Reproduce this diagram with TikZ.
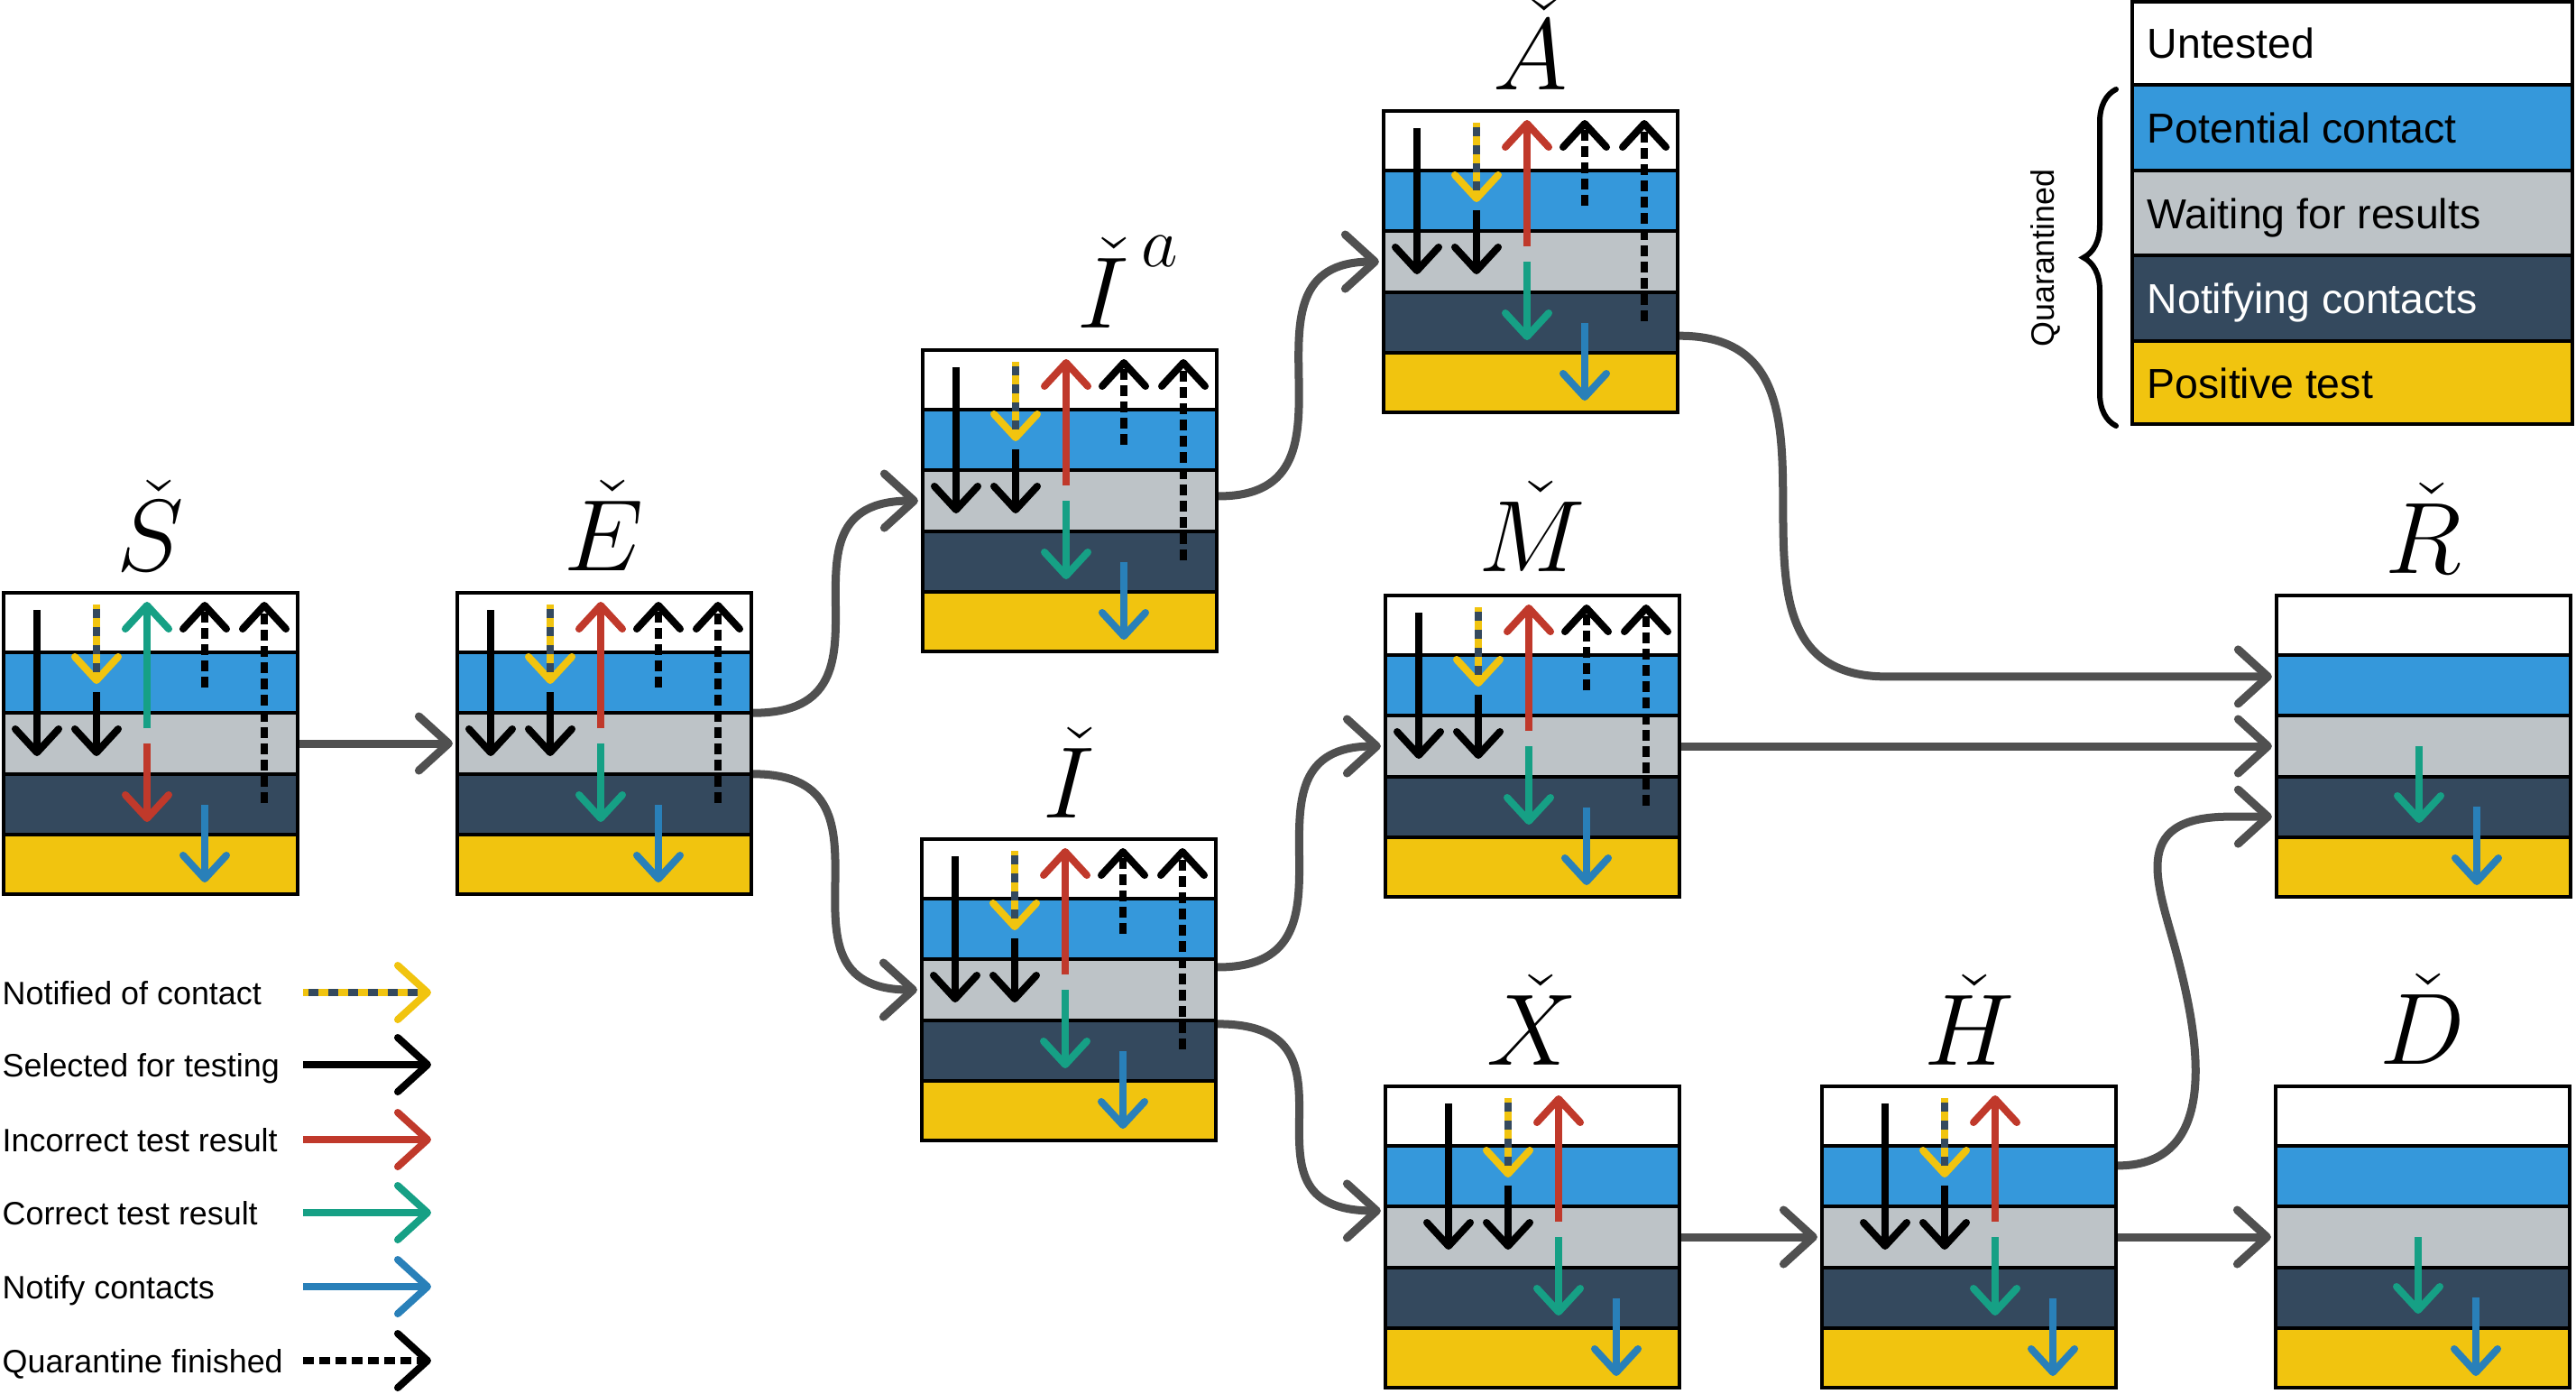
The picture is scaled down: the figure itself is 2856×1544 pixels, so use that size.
\RequirePackage{fix-cm}
\documentclass[tikz,border=0pt]{standalone}
\usepackage{fontspec}
\setmainfont{Liberation Sans}
\usetikzlibrary{arrows.meta,calc,decorations.pathreplacing}
\definecolor{cBlue}{HTML}{3598DB}
\definecolor{cGray}{HTML}{BDC3C7}
\definecolor{cDark}{HTML}{34495E}
\definecolor{cYel}{HTML}{F1C40F}
\definecolor{cRed}{HTML}{C0392B}
\definecolor{cGreen}{HTML}{16A085}
\definecolor{cArrB}{HTML}{2980B9}
\definecolor{cConn}{HTML}{505050}
\tikzset{
  bandline/.style={line width=0.04cm},
  boxnode/.style={draw, line width=0.04cm, minimum width=3.26cm, minimum height=3.34cm, inner sep=0pt},
  tipSmall/.style={-{Straight Barb[length=0.26cm,width=0.48cm,round]}},
  tipLarge/.style={-{Straight Barb[length=0.33cm,width=0.6cm,round]}},
  arBase/.style={line width=0.08cm, tipSmall},
  arSel/.style={arBase, black},
  arInc/.style={arBase, cRed},
  arCor/.style={arBase, cGreen},
  arNtf/.style={arBase, cArrB},
  arQua/.style={arBase, black, dash pattern=on 0.12cm off 0.06cm},
  arNotY/.style={arBase, cYel},
  arNotD/.style={line width=0.08cm, cDark, dash pattern=on 0.1cm off 0.1cm, dash phase=0.15cm},
  lgBase/.style={line width=0.08cm, tipLarge},
  lgNotD/.style={line width=0.08cm, cDark, dash pattern=on 0.11cm off 0.11cm, dash phase=0.16cm},
  conn/.style={line width=0.09cm, cConn, tipLarge, shorten >=0.03cm},
  lab/.style={anchor=base, inner sep=0pt, font=\fontsize{32}{38}\selectfont},
  legL/.style={anchor=base west, inner sep=0pt, font=\fontsize{10.2}{12}\selectfont},
  legR/.style={anchor=base west, inner sep=0pt, font=\fontsize{13.2}{15}\selectfont},
  bracestyle/.style={decorate, decoration={brace, amplitude=0.36cm}, line width=0.06cm, line cap=round},
}
\newcommand\bandbox[3]{%
  \begin{scope}[shift={(#2,#3)}]
    \fill[white] (0,0) rectangle (330,67.6);
    \fill[cBlue] (0,67.6) rectangle (330,135.2);
    \fill[cGray] (0,135.2) rectangle (330,202.8);
    \fill[cDark] (0,202.8) rectangle (330,270.4);
    \fill[cYel] (0,270.4) rectangle (330,338);
    \foreach \yy in {67.6,135.2,202.8,270.4} {\draw[bandline] (0,\yy) -- (330,\yy);}
  \end{scope}
  \node[boxnode] (#1) at ({#2+165},{#3+169}) {};
}
\newcommand\arrowsFull[4]{%
  \begin{scope}[shift={(#1,#2)}]
    \draw[arSel] (39,21) -- (39,183);
    \draw[arNotY] (105,15) -- (105,103);
    \draw[arNotD] (105,15) -- (105,94);
    \draw[arSel] (105,112) -- (105,183);
    \draw[#3] (161,152) -- (161,12);
    \draw[#4] (161,169) -- (161,256);
    \draw[arQua] (225,107) -- (225,12);
    \draw[arNtf] (225,237) -- (225,323);
    \draw[arQua] (291,235) -- (291,12);
  \end{scope}}
\newcommand\arrowsPart[2]{%
  \begin{scope}[shift={(#1,#2)}]
    \draw[arSel] (72,21) -- (72,183);
    \draw[arNotY] (138,15) -- (138,103);
    \draw[arNotD] (138,15) -- (138,94);
    \draw[arSel] (138,112) -- (138,183);
    \draw[arInc] (194,152) -- (194,12);
    \draw[arCor] (194,169) -- (194,256);
    \draw[arNtf] (258,237) -- (258,323);
  \end{scope}}
\newcommand\arrowsEnd[2]{%
  \begin{scope}[shift={(#1,#2)}]
    \draw[arCor] (160,169) -- (160,254);
    \draw[arNtf] (224,236) -- (224,323);
  \end{scope}}
\begin{document}
\begin{tikzpicture}[x=0.01cm,y=-0.01cm]
\useasboundingbox (0,0) rectangle (2856,1544);
\fill[white] (0,0) rectangle (2856,1544);

% compartments
\bandbox{S}{2}{655}      \arrowsFull{2}{655}{arCor}{arInc}
\bandbox{E}{505}{655}    \arrowsFull{505}{655}{arInc}{arCor}
\bandbox{Ia}{1021}{386}  \arrowsFull{1021}{386}{arInc}{arCor}
\bandbox{I}{1020}{928}   \arrowsFull{1020}{928}{arInc}{arCor}
\bandbox{A}{1532}{121}   \arrowsFull{1532}{121}{arInc}{arCor}
\bandbox{M}{1534}{658}   \arrowsFull{1534}{658}{arInc}{arCor}
\bandbox{X}{1534}{1202}  \arrowsPart{1534}{1202}
\bandbox{H}{2018}{1202}  \arrowsPart{2018}{1202}
\bandbox{R}{2522}{658}   \arrowsEnd{2522}{658}
\bandbox{D}{2521}{1202}  \arrowsEnd{2521}{1202}

% labels
\node[lab] (Slab) at (167,632) {$\check{S}$};
\node[lab] (Elab) at (670,632) {$\check{E}$};
\node[lab, anchor=base west] (Ialab) at (1194,363) {$\check{I}^{\mkern3mu\raisebox{7.5pt}{$\scriptstyle a$}}$};
\node[lab] (Ilab) at (1185,906) {$\check{I}$};
\node[lab] (Alab) at (1697,99) {$\check{A}$};
\node[lab] (Mlab) at (1699,633) {$\check{M}$};
\node[lab] (Xlab) at (1699,1180) {$\check{X}$};
\node[lab] (Hlab) at (2183,1180) {$\check{H}$};
\node[lab] (Rlab) at (2687,635) {$\check{R}$};
\node[lab] (Dlab) at (2686,1179) {$\check{D}$};

% connector anchor points
\coordinate (Eo1) at ($(E.north east)!0.40!(E.south east)$);
\coordinate (Eo2) at ($(E.north east)!0.60!(E.south east)$);
\coordinate (Iao) at ($(Ia.north east)!0.485!(Ia.south east)$);
\coordinate (Io1) at ($(I.north east)!0.426!(I.south east)$);
\coordinate (Io2) at ($(I.north east)!0.612!(I.south east)$);
\coordinate (Xi) at ($(X.north west)!0.414!(X.south west)$);
\coordinate (Ao) at ($(A.north east)!0.743!(A.south east)$);
\coordinate (Ri1) at ($(R.north west)!0.272!(R.south west)$);
\coordinate (Ri3) at ($(R.north west)!0.731!(R.south west)$);
\coordinate (Ho) at ($(H.north east)!0.266!(H.south east)$);
\coordinate (HRmid) at (2414,1060);

% connectors
\draw[conn] (S.east) -- (E.west);
\draw[conn] (Eo1) .. controls +(182,0) and +(-182,0) .. (Ia.west);
\draw[conn] (Eo2) .. controls +(182,0) and +(-182,0) .. (I.west);
\draw[conn] (Iao) .. controls +(179,0) and +(-179,0) .. (A.west);
\draw[conn] (Io1) .. controls +(180,0) and +(-180,0) .. (M.west);
\draw[conn] (Io2) .. controls +(180,0) and +(-180,0) .. (Xi);
\draw[conn] (Ao) .. controls +(228,0) and +(-228,0) .. ([xshift=-4.3cm]Ri1) -- (Ri1);
\draw[conn] (M.east) -- (R.west);
\draw[conn] (X.east) -- (H.west);
\draw[conn] (H.east) -- (D.west);
\draw[conn] (Ho) .. controls +(120,0) and +(20,77) .. (HRmid) .. controls +(-20,-77) and +(-115,0) .. ([xshift=-0.5cm]Ri3) -- (Ri3);

% state legend
\begin{scope}[shift={(2362,0)}]
  \fill[white] (0,0) rectangle (492,94.4);
  \fill[cBlue] (0,94.4) rectangle (492,188.8);
  \fill[cGray] (0,188.8) rectangle (492,283.2);
  \fill[cDark] (0,283.2) rectangle (492,377.6);
  \fill[cYel] (0,377.6) rectangle (492,472);
  \foreach \yy in {94.4,188.8,283.2,377.6} {\draw[bandline] (0,\yy) -- (492,\yy);}
\end{scope}
\node[draw, line width=0.04cm, minimum width=4.88cm, minimum height=4.68cm, inner sep=0pt] (Leg) at (2608,236) {};
\node[legR] (L1) at (2380,64) {Untested};
\node[legR] (L2) at (2380,158) {Potential contact};
\node[legR] (L3) at (2380,253) {Waiting for results};
\node[legR, text=white] (L4) at (2380,347) {Notifying contacts};
\node[legR] (L5) at (2380,441) {Positive test};
\coordinate (BrBot) at (2346,472);
\coordinate (BrTop) at (2346,99);
\draw[bracestyle] (BrBot) -- (BrTop);
\node[inner sep=0pt, rotate=90, font=\fontsize{10.2}{12}\selectfont] (Qt) at (2268,286) {Quarantined};

% arrow legend
\node[legL] (T1) at (2,1113) {Notified of contact};
\node[legL] (T2) at (2,1193) {Selected for testing};
\node[legL] (T3) at (2,1276) {Incorrect test result};
\node[legL] (T4) at (2,1357) {Correct test result};
\node[legL] (T5) at (2,1439) {Notify contacts};
\node[legL] (T6) at (2,1521) {Quarantine finished};
\coordinate (a1s) at (336,1100); \coordinate (a1e) at (478,1100);
\coordinate (a2s) at (336,1180); \coordinate (a2e) at (478,1180);
\coordinate (a3s) at (336,1263); \coordinate (a3e) at (478,1263);
\coordinate (a4s) at (336,1344); \coordinate (a4e) at (478,1344);
\coordinate (a5s) at (336,1426); \coordinate (a5e) at (478,1426);
\coordinate (a6s) at (336,1508); \coordinate (a6e) at (478,1508);
\draw[lgBase, cYel] (a1s) -- (a1e);
\draw[lgNotD] (a1s) -- ([xshift=-0.14cm]a1e);
\draw[lgBase, black] (a2s) -- (a2e);
\draw[lgBase, cRed] (a3s) -- (a3e);
\draw[lgBase, cGreen] (a4s) -- (a4e);
\draw[lgBase, cArrB] (a5s) -- (a5e);
\draw[lgBase, black, dash pattern=on 0.12cm off 0.06cm] (a6s) -- (a6e);
\end{tikzpicture}
\end{document}
